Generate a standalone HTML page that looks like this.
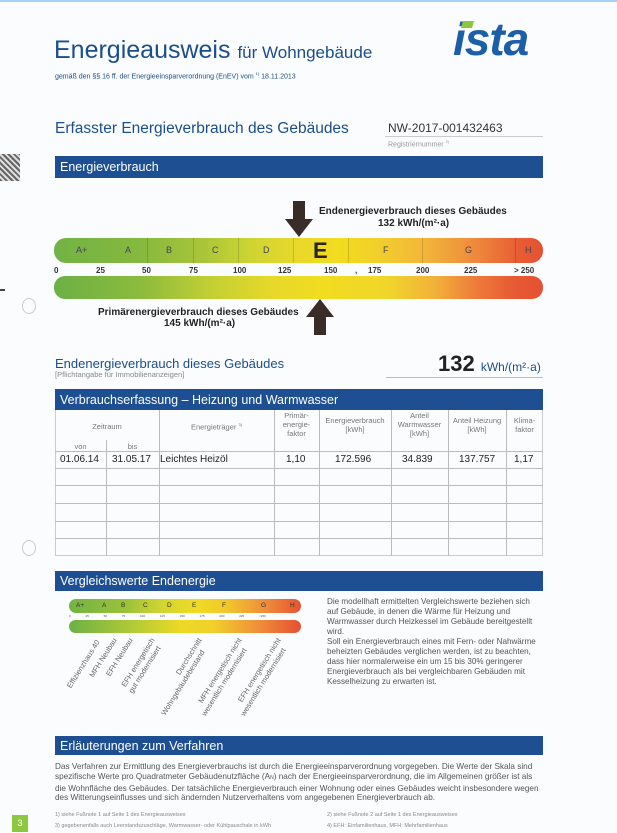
<!DOCTYPE html>
<html><head><meta charset="utf-8"><style>
*{margin:0;padding:0;box-sizing:border-box}
body{width:617px;height:833px;background:#fbfcfd;position:relative;overflow:hidden;font-family:"Liberation Sans",sans-serif}
.a{position:absolute;white-space:nowrap}
.blue{position:absolute;left:55px;width:488px;background:#1d4f92;color:#fff;font-size:12.5px;padding-left:5px;display:flex;align-items:center}
.dk{color:#1a4e8c}
.hd{color:#777;font-size:7.5px;text-align:center;line-height:9px}
.v{position:absolute;background:#bbb;width:1px}
.h{position:absolute;background:#bbb;height:1px;left:55px;width:488px}
.num{font-size:8px;font-weight:bold;color:#333}
</style></head><body>
<div class="a" style="left:0;top:0;width:617px;height:2px;background:#a8d0f4"></div>
<div class="a dk" style="left:54px;top:36px;font-size:25px">Energieausweis <span style="font-size:17px">für Wohngebäude</span></div>
<div class="a dk" style="left:55px;top:71px;font-size:7px">gemäß den §§ 16 ff. der Energieeinsparverordnung (EnEV) vom <sup style="font-size:4px">1)</sup> 18.11.2013</div>
<div class="a" style="left:453px;top:12px;font-size:46px;font-weight:bold;font-style:italic;color:#1d5ea8;letter-spacing:-1px">ista</div>
<div class="a" style="left:462px;top:21px;width:11px;height:7px;background:#8dc63f;transform:skewX(-15deg)"></div>
<div class="a dk" style="left:55px;top:120px;font-size:15.5px">Erfasster Energieverbrauch des Gebäudes</div>
<div class="a" style="left:388px;top:121px;font-size:12px;color:#333">NW-2017-001432463</div>
<div class="a" style="left:385px;top:136px;width:158px;height:1px;background:#ccc"></div>
<div class="a" style="left:388px;top:139px;font-size:7px;color:#999">Registriernummer <sup style="font-size:4px">2)</sup></div>
<div class="a" style="left:0;top:154px;width:20px;height:27px;background:repeating-linear-gradient(45deg,#666 0 2px,#ddd 2px 4px)"></div>
<div class="a" style="left:22px;top:298px;width:14px;height:16px;border:1px solid #ccc;border-radius:50%"></div>
<div class="a" style="left:22px;top:540px;width:14px;height:16px;border:1px solid #ccc;border-radius:50%"></div>
<div class="a" style="left:0;top:289px;width:5px;height:2px;background:#444"></div>

<div class="blue" style="top:156px;height:22px">Energieverbrauch</div>
<svg class="a" style="left:284px;top:201px" width="30" height="37"><polygon points="9,0 21,0 21,18 29,18 15,36 1,18 9,18" fill="#3a2c26"/></svg>
<div class="a" style="left:319px;top:206px;font-size:10px;font-weight:bold;color:#222">Endenergieverbrauch dieses Gebäudes</div>
<div class="a" style="left:378px;top:218px;font-size:10px;font-weight:bold;color:#222">132 kWh/(m²·a)</div>
<div class="a" style="left:54px;top:238px;width:489px;height:25px;border-radius:12px;background:linear-gradient(90deg,#72b244 0%,#86b93e 18%,#a8c43a 30%,#cdd433 40%,#e9d82a 50%,#f2dc1f 58%,#f1d02a 66%,#f2b53a 76%,#ef8a3c 86%,#e85c34 95%,#e65232 100%)"></div>
<div class="v" style="left:147px;top:238px;height:25px;background:rgba(0,0,0,.15)"></div>
<div class="v" style="left:193px;top:238px;height:25px;background:rgba(0,0,0,.15)"></div>
<div class="v" style="left:238px;top:238px;height:25px;background:rgba(0,0,0,.15)"></div>
<div class="v" style="left:293px;top:238px;height:25px;background:rgba(0,0,0,.15)"></div>
<div class="v" style="left:348px;top:238px;height:25px;background:rgba(0,0,0,.15)"></div>
<div class="v" style="left:422px;top:238px;height:25px;background:rgba(0,0,0,.15)"></div>
<div class="v" style="left:515px;top:238px;height:25px;background:rgba(0,0,0,.15)"></div>
<div class="a" style="left:76px;top:245px;font-size:9px;color:#445">A+</div>
<div class="a" style="left:125px;top:245px;font-size:9px;color:#445">A</div>
<div class="a" style="left:166px;top:245px;font-size:9px;color:#445">B</div>
<div class="a" style="left:212px;top:245px;font-size:9px;color:#445">C</div>
<div class="a" style="left:263px;top:245px;font-size:9px;color:#445">D</div>
<div class="a" style="left:313px;top:238px;font-size:22px;font-weight:bold;color:#2a2418">E</div>
<div class="a" style="left:383px;top:245px;font-size:9px;color:#445">F</div>
<div class="a" style="left:465px;top:245px;font-size:9px;color:#445">G</div>
<div class="a" style="left:525px;top:245px;font-size:9px;color:#445">H</div>
<div class="a num" style="left:54px;top:266px">0</div>
<div class="a num" style="left:96px;top:266px">25</div>
<div class="a num" style="left:142px;top:266px">50</div>
<div class="a num" style="left:189px;top:266px">75</div>
<div class="a num" style="left:233px;top:266px">100</div>
<div class="a num" style="left:278px;top:266px">125</div>
<div class="a num" style="left:324px;top:266px">150</div>
<div class="a num" style="left:355px;top:266px">,</div>
<div class="a num" style="left:368px;top:266px">175</div>
<div class="a num" style="left:416px;top:266px">200</div>
<div class="a num" style="left:464px;top:266px">225</div>
<div class="a num" style="left:514px;top:266px">&gt; 250</div>
<div class="a" style="left:54px;top:276px;width:489px;height:23px;border-radius:11px;background:linear-gradient(90deg,#6cb045 0%,#8cbb3d 18%,#c2cf33 32%,#e6d82a 44%,#f1dc20 55%,#f0d62a 68%,#f2b03a 78%,#ee7d3a 86%,#e75a34 94%,#e55032 100%)"></div>
<svg class="a" style="left:305px;top:299px" width="30" height="37"><polygon points="15,0 29,18 21,18 21,36 9,36 9,18 1,18" fill="#3a2c26"/></svg>
<div class="a" style="left:98px;top:307px;font-size:10px;font-weight:bold;color:#222">Primärenergieverbrauch dieses Gebäudes</div>
<div class="a" style="left:164px;top:318px;font-size:10px;font-weight:bold;color:#222">145 kWh/(m²·a)</div>

<div class="a dk" style="left:55px;top:356px;font-size:13px">Endenergieverbrauch dieses Gebäudes</div>
<div class="a" style="left:55px;top:370px;font-size:7.5px;color:#888">[Pflichtangabe für Immobilienanzeigen]</div>
<div class="a" style="left:438px;top:351px;font-size:22px;font-weight:bold;color:#222">132 <span style="font-size:12px;font-weight:normal;color:#1a4e8c">kWh/(m²·a)</span></div>
<div class="a" style="left:386px;top:377px;width:157px;height:1px;background:#bbb"></div>

<div class="blue" style="top:389px;height:21px">Verbrauchserfassung – Heizung und Warmwasser</div>
<div class="a" style="left:55px;top:410px;width:488px;height:146px;border:1px solid #ccc;border-top:none"></div>
<div class="v" style="left:106px;top:440px;height:116px"></div>
<div class="v" style="left:159px;top:410px;height:146px"></div>
<div class="v" style="left:274px;top:410px;height:146px"></div>
<div class="v" style="left:319px;top:410px;height:146px"></div>
<div class="v" style="left:391px;top:410px;height:146px"></div>
<div class="v" style="left:448px;top:410px;height:146px"></div>
<div class="v" style="left:506px;top:410px;height:146px"></div>
<div class="h" style="top:451px"></div><div class="h" style="top:468px"></div><div class="h" style="top:485px"></div><div class="h" style="top:503px"></div><div class="h" style="top:521px"></div><div class="h" style="top:538px"></div>
<div class="a hd" style="left:55px;top:422px;width:104px">Zeitraum</div>
<div class="a hd" style="left:55px;top:442px;width:51px">von</div>
<div class="a hd" style="left:106px;top:442px;width:53px">bis</div>
<div class="a hd" style="left:159px;top:420px;width:115px">Energieträger <sup style="font-size:4px">3)</sup></div>
<div class="a hd" style="left:274px;top:411px;width:45px">Primär-<br>energie-<br>faktor</div>
<div class="a hd" style="left:319px;top:416px;width:72px">Energieverbrauch<br>[kWh]</div>
<div class="a hd" style="left:391px;top:411px;width:57px">Anteil<br>Warmwasser<br>[kWh]</div>
<div class="a hd" style="left:448px;top:416px;width:58px">Anteil Heizung<br>[kWh]</div>
<div class="a hd" style="left:506px;top:416px;width:37px">Klima-<br>faktor</div>
<div class="a" style="left:60px;top:454px;font-size:10px;color:#222">01.06.14</div>
<div class="a" style="left:112px;top:454px;font-size:10px;color:#222">31.05.17</div>
<div class="a" style="left:160px;top:454px;font-size:10px;color:#222">Leichtes Heizöl</div>
<div class="a" style="left:286px;top:454px;font-size:10px;color:#222">1,10</div>
<div class="a" style="left:335px;top:454px;font-size:10px;color:#222">172.596</div>
<div class="a" style="left:402px;top:454px;font-size:10px;color:#222">34.839</div>
<div class="a" style="left:459px;top:454px;font-size:10px;color:#222">137.757</div>
<div class="a" style="left:514px;top:454px;font-size:10px;color:#222">1,17</div>

<div class="blue" style="top:571px;height:20px">Vergleichswerte Endenergie</div>
<div class="a" style="left:69px;top:599px;width:232px;height:14px;border-radius:7px;background:linear-gradient(90deg,#72b244 0%,#9cc23a 25%,#d2d530 40%,#f0db22 55%,#f1c72c 68%,#ef8b3a 85%,#e65232 100%)"></div>
<div class="a" style="left:76px;top:602px;font-size:6.5px;color:#333">A+</div>
<div class="a" style="left:102px;top:602px;font-size:6.5px;color:#333">A</div>
<div class="a" style="left:121px;top:602px;font-size:6.5px;color:#333">B</div>
<div class="a" style="left:143px;top:602px;font-size:6.5px;color:#333">C</div>
<div class="a" style="left:167px;top:602px;font-size:6.5px;color:#333">D</div>
<div class="a" style="left:192px;top:602px;font-size:6.5px;color:#333">E</div>
<div class="a" style="left:222px;top:602px;font-size:6.5px;color:#333">F</div>
<div class="a" style="left:261px;top:602px;font-size:6.5px;color:#333">G</div>
<div class="a" style="left:290px;top:602px;font-size:6.5px;color:#333">H</div>
<div class="a" style="left:69px;top:614px;font-size:3px;color:#555;word-spacing:14px">0 25 50 75 100 125 150 175 200 225 &gt;250</div>
<div class="a" style="left:69px;top:620px;width:232px;height:13px;border-radius:7px;background:linear-gradient(90deg,#6cb045 0%,#b8cc35 30%,#ecd926 48%,#f1d02a 62%,#ef8d3a 82%,#e55032 100%)"></div>
<svg class="a" style="left:55px;top:630px" width="240" height="110">
<g font-family="Liberation Sans,sans-serif" font-size="7.5" fill="#666" text-anchor="end">
<text transform="translate(45,12) rotate(-58)">Effizienzhaus 40</text>
<text transform="translate(62,10) rotate(-58)">MFH Neubau</text>
<text transform="translate(78,10) rotate(-58)">EFH Neubau</text>
<text transform="translate(100,10) rotate(-58)">EFH energetisch</text>
<text transform="translate(106,18) rotate(-58)">gut modernisiert</text>
<text transform="translate(147,10) rotate(-58)">Durchschnitt</text>
<text transform="translate(150,22) rotate(-58)">Wohngebäudebestand</text>
<text transform="translate(187,10) rotate(-58)">MFH energetisch nicht</text>
<text transform="translate(192,20) rotate(-58)">wesentlich modernisiert</text>
<text transform="translate(226,10) rotate(-58)">EFH energetisch nicht</text>
<text transform="translate(231,20) rotate(-58)">wesentlich modernisiert</text>
</g></svg>
<div class="a" style="left:327px;top:597px;font-size:8.1px;line-height:10px;color:#555">Die modellhaft ermittelten Vergleichswerte beziehen sich<br>auf Gebäude, in denen die Wärme für Heizung und<br>Warmwasser durch Heizkessel im Gebäude bereitgestellt<br>wird.<br>Soll ein Energieverbrauch eines mit Fern- oder Nahwärme<br>beheizten Gebäudes verglichen werden, ist zu beachten,<br>dass hier normalerweise ein um 15 bis 30% geringerer<br>Energieverbrauch als bei vergleichbaren Gebäuden mit<br>Kesselheizung zu erwarten ist.</div>

<div class="blue" style="top:736px;height:19px">Erläuterungen zum Verfahren</div>
<div class="a" style="left:55px;top:762px;font-size:8.2px;line-height:9.8px;color:#555">Das Verfahren zur Ermittlung des Energieverbrauchs ist durch die Energieeinsparverordnung vorgegeben. Die Werte der Skala sind<br>spezifische Werte pro Quadratmeter Gebäudenutzfläche (A<span style="font-size:5px">N</span>) nach der Energieeinsparverordnung, die im Allgemeinen größer ist als<br>die Wohnfläche des Gebäudes. Der tatsächliche Energieverbrauch einer Wohnung oder eines Gebäudes weicht insbesondere wegen<br>des Witterungseinflusses und sich ändernden Nutzerverhaltens vom angegebenen Energieverbrauch ab.</div>
<div class="a" style="left:55px;top:812px;font-size:5.5px;color:#888">1) siehe Fußnote 1 auf Seite 1 des Energieausweises</div>
<div class="a" style="left:55px;top:823px;font-size:5.5px;color:#888">3) gegebenenfalls auch Leerstandszuschläge, Warmwasser- oder Kühlpauschale in kWh</div>
<div class="a" style="left:327px;top:812px;font-size:5.5px;color:#888">2) siehe Fußnote 2 auf Seite 1 des Energieausweises</div>
<div class="a" style="left:327px;top:823px;font-size:5.5px;color:#888">4) EFH: Einfamilienhaus, MFH: Mehrfamilienhaus</div>
<div class="a" style="left:12px;top:815px;width:16px;height:17px;background:#8dc63f;color:#fff;font-size:9px;text-align:center;line-height:17px">3</div>
</body></html>
